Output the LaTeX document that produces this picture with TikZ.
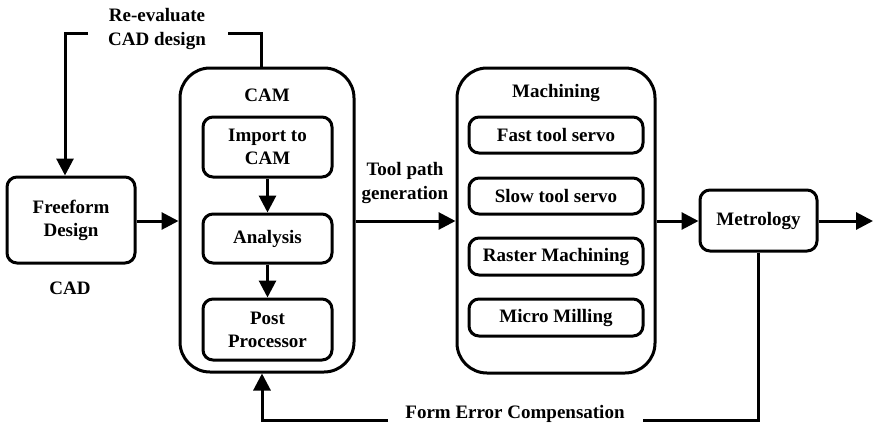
\documentclass[tikz,border=0pt]{standalone}
\usepackage{fontspec}
\setmainfont{Liberation Serif}
\usetikzlibrary{arrows.meta}
\begin{document}
\begin{tikzpicture}[x=1pt,y=-1pt,
  box/.style={draw,line width=3pt,rounded corners=10pt,align=center,inner sep=0pt,font=\bfseries\fontsize{19}{23}\selectfont},
  bigbox/.style={draw,line width=3pt,rounded corners=30pt,inner sep=0pt},
  lbl/.style={align=center,inner sep=0pt,font=\bfseries\fontsize{19}{24}\selectfont},
  line/.style={line width=3pt},
  arrow/.style={line width=3pt,-{Triangle[length=17pt,width=17pt]}}]
\useasboundingbox (0,0) rectangle (874,426);
\node[box,minimum width=128pt,minimum height=86pt] (freeform) at (71,220) {Freeform\\Design};
\node[lbl] (cad) at (70,288) {CAD};
\node[bigbox,minimum width=174pt,minimum height=304pt] (cam) at (267,220) {};
\node[lbl] (camt) at (267,95) {CAM};
\node[box,minimum width=129pt,minimum height=60pt] (import) at (267.5,147) {Import to\\CAM};
\node[box,minimum width=129pt,minimum height=49pt] (analysis) at (267.5,238.5) {Analysis};
\node[box,minimum width=129pt,minimum height=61pt] (post) at (267.5,329.5) {Post\\Processor};
\node[bigbox,minimum width=198pt,minimum height=305pt] (mach) at (556,220.5) {};
\node[lbl] (macht) at (556,93) {Machining};
\node[box,minimum width=174pt,minimum height=36pt] (fast) at (556,135) {Fast tool servo};
\node[box,minimum width=174pt,minimum height=36pt] (slow) at (556,196) {Slow tool servo};
\node[box,minimum width=174pt,minimum height=37pt] (raster) at (556,256.5) {Raster Machining};
\node[box,minimum width=174pt,minimum height=37pt] (micro) at (556,317.5) {Micro Milling};
\node[box,minimum width=117pt,minimum height=61pt] (metro) at (758.5,220.5) {Metrology};
\node[lbl] (toolpath) at (405,183) {Tool path\\generation};
\node[lbl] (reeval) at (157,29) {Re-evaluate\\CAD design};
\node[lbl] (formerr) at (515,414) {Form Error Compensation};
\coordinate (out) at (873,221);
\coordinate (re1) at (228,33);
\coordinate (re2) at (88,33);
\coordinate (fe1) at (643,420);
\coordinate (fe2) at (388,420);
\draw[arrow] (freeform.east |- 0,221) -- (cam.west |- 0,221);
\draw[arrow] (cam.east |- 0,221) -- (mach.west |- 0,221);
\draw[arrow] (mach.east |- 0,221) -- (metro.west |- 0,221);
\draw[arrow] (metro.east |- 0,221) -- (out);
\draw[arrow] (import) -- (analysis);
\draw[arrow] (analysis) -- (post);
\draw[line] ([xshift=-6pt]cam.north) |- (re1);
\draw[arrow] (re2) -| ([xshift=-6pt]freeform.north);
\draw[line] (metro.south) |- (fe1);
\draw[arrow] (fe2) -| ([xshift=-5pt]cam.south);
\end{tikzpicture}
\end{document}
